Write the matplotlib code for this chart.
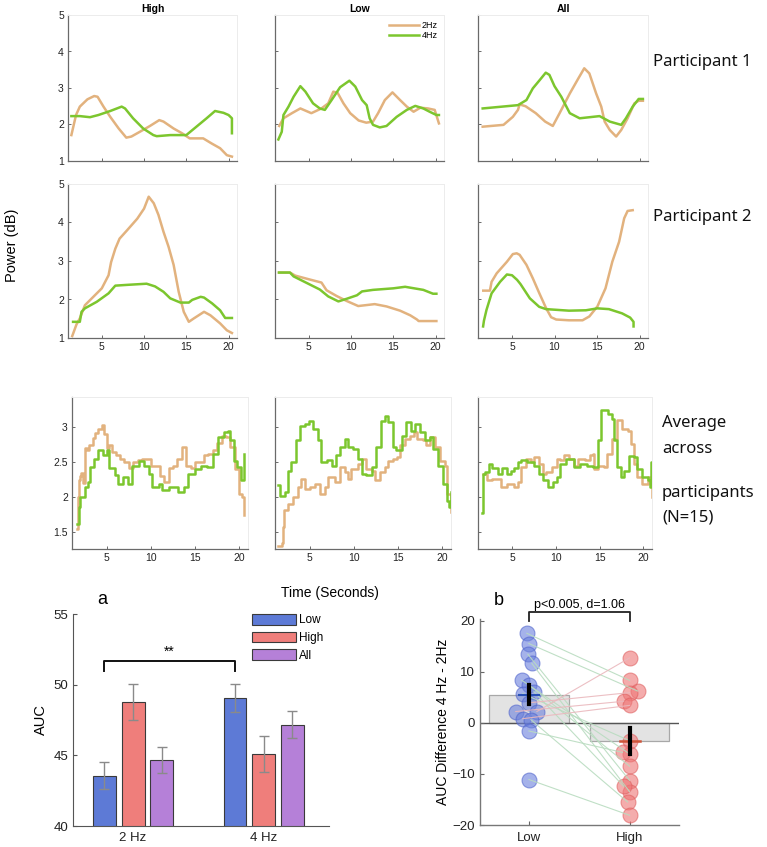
import numpy as np
import matplotlib
matplotlib.use("Agg")
import matplotlib.pyplot as plt

plt.rcParams['font.family'] = ['Liberation Sans', 'DejaVu Sans']

W, H = 767, 847
TAN = '#E2B27E'
GREEN = '#7CC62E'

# ---------------- datos ----------------
# Participante 1
p1_high_t2 = [1.4, 1.95, 2.4, 3.3, 4.1, 4.5, 5.2, 6.0, 7.0, 7.9, 8.5, 9.5, 10.7, 11.8, 12.3, 13.5, 14.5, 15.4, 17.0, 18.0, 19.0, 19.8, 20.4]
p1_high_v2 = [1.71, 2.26, 2.49, 2.69, 2.78, 2.76, 2.49, 2.21, 1.89, 1.64, 1.67, 1.80, 1.96, 2.12, 2.08, 1.89, 1.76, 1.62, 1.62, 1.48, 1.35, 1.16, 1.12]
p1_high_t4 = [1.4, 2.4, 3.6, 4.6, 6.0, 7.35, 7.75, 8.7, 9.9, 11.1, 11.5, 13.1, 15.0, 16.2, 17.4, 18.4, 19.4, 20.0, 20.4, 20.4]
p1_high_v4 = [2.23, 2.23, 2.20, 2.26, 2.37, 2.49, 2.44, 2.17, 1.89, 1.71, 1.68, 1.71, 1.71, 1.94, 2.17, 2.37, 2.32, 2.26, 2.17, 1.76]

p1_low_t2 = [1.5, 2.0, 3.0, 4.0, 5.3, 6.5, 7.3, 7.9, 8.4, 9.1, 9.9, 10.9, 11.8, 12.6, 13.2, 14.0, 14.9, 15.8, 16.6, 17.4, 18.2, 19.1, 19.9, 20.4]
p1_low_v2 = [1.96, 2.17, 2.31, 2.44, 2.31, 2.44, 2.58, 2.90, 2.87, 2.58, 2.31, 2.11, 2.05, 2.08, 2.31, 2.67, 2.88, 2.67, 2.49, 2.35, 2.46, 2.44, 2.40, 2.03]
p1_low_t4 = [1.4, 1.8, 2.0, 2.6, 3.2, 4.0, 4.6, 5.5, 6.3, 6.9, 7.7, 8.7, 9.8, 10.5, 11.3, 11.85, 12.2, 12.6, 13.4, 14.2, 15.4, 16.6, 17.6, 18.55, 19.3, 20.1, 20.4]
p1_low_v4 = [1.59, 1.80, 2.26, 2.49, 2.76, 3.05, 2.90, 2.58, 2.44, 2.40, 2.67, 3.02, 3.20, 3.04, 2.67, 2.53, 2.17, 1.99, 1.92, 1.96, 2.21, 2.40, 2.51, 2.44, 2.35, 2.26, 2.26]

p1_all_t2 = [1.55, 4.0, 5.1, 5.7, 5.9, 6.6, 7.8, 8.9, 9.8, 10.6, 11.8, 12.8, 13.5, 14.1, 14.9, 15.5, 15.9, 16.5, 17.25, 17.85, 18.6, 19.4, 19.9, 20.4]
p1_all_v2 = [1.94, 1.99, 2.21, 2.40, 2.55, 2.50, 2.31, 2.08, 1.96, 2.31, 2.85, 3.26, 3.54, 3.40, 2.85, 2.49, 2.08, 1.85, 1.67, 1.85, 2.17, 2.58, 2.65, 2.65]
p1_all_t4 = [1.55, 5.7, 6.7, 7.45, 8.27, 8.97, 9.4, 10.0, 10.8, 11.8, 12.96, 15.3, 16.5, 17.85, 18.4, 19.2, 19.9, 20.4]
p1_all_v4 = [2.44, 2.53, 2.67, 2.99, 3.22, 3.42, 3.36, 3.05, 2.76, 2.31, 2.17, 2.23, 2.08, 1.99, 2.17, 2.49, 2.70, 2.70]

# Participante 2
p2_high_t2 = [1.5, 2.0, 2.4, 3.0, 4.0, 5.0, 5.8, 6.1, 6.6, 7.1, 8.0, 9.2, 10.0, 10.55, 11.15, 11.7, 12.3, 12.9, 13.5, 14.1, 14.7, 15.3, 15.9, 17.1, 17.85, 19.0, 19.8, 20.4]
p2_high_v2 = [1.05, 1.35, 1.51, 1.85, 2.07, 2.29, 2.63, 2.97, 3.32, 3.58, 3.80, 4.10, 4.36, 4.67, 4.50, 4.20, 3.76, 3.37, 2.90, 2.20, 1.68, 1.42, 1.51, 1.68, 1.59, 1.38, 1.20, 1.13]
p2_high_t4 = [1.6, 2.4, 2.6, 3.0, 4.4, 5.8, 6.6, 8.0, 10.3, 11.3, 12.3, 13.1, 14.3, 15.3, 15.7, 16.7, 17.1, 18.05, 19.0, 19.6, 20.4]
p2_high_v4 = [1.42, 1.42, 1.68, 1.77, 1.94, 2.16, 2.36, 2.38, 2.41, 2.34, 2.20, 2.03, 1.92, 1.92, 1.99, 2.07, 2.05, 1.90, 1.72, 1.52, 1.52]

p2_low_t2 = [1.47, 2.77, 3.4, 5.1, 6.5, 7.1, 8.3, 9.5, 10.85, 12.8, 14.2, 15.8, 17.0, 17.8, 18.0, 20.1]
p2_low_v2 = [2.70, 2.70, 2.62, 2.52, 2.44, 2.24, 2.09, 1.96, 1.83, 1.88, 1.82, 1.71, 1.59, 1.48, 1.44, 1.44]
p2_low_t4 = [1.47, 2.77, 3.2, 4.75, 6.3, 7.3, 8.5, 9.5, 10.7, 11.3, 12.6, 15.0, 16.4, 18.55, 19.7, 20.1]
p2_low_v4 = [2.70, 2.70, 2.60, 2.43, 2.26, 2.08, 1.95, 2.02, 2.11, 2.21, 2.25, 2.29, 2.33, 2.25, 2.15, 2.15]

p2_all_t2 = [1.62, 2.4, 2.6, 3.2, 4.4, 5.1, 5.55, 5.9, 6.7, 7.45, 8.2, 9.0, 9.6, 10.2, 11.7, 13.3, 14.1, 15.05, 16.0, 16.8, 17.6, 18.2, 18.6, 19.2]
p2_all_v2 = [2.23, 2.23, 2.46, 2.68, 2.98, 3.18, 3.20, 3.16, 2.90, 2.55, 2.17, 1.78, 1.54, 1.48, 1.46, 1.46, 1.56, 1.82, 2.29, 2.98, 3.50, 4.11, 4.30, 4.32]
p2_all_t4 = [1.6, 1.7, 2.0, 2.6, 3.6, 4.4, 5.0, 5.6, 6.0, 7.1, 8.2, 9.0, 11.7, 13.7, 15.05, 16.4, 17.95, 18.9, 19.3, 19.3]
p2_all_v4 = [1.30, 1.45, 1.73, 2.16, 2.46, 2.65, 2.63, 2.51, 2.40, 2.03, 1.81, 1.75, 1.71, 1.72, 1.77, 1.75, 1.64, 1.53, 1.42, 1.30]

# Media de participantes (N=15)
avg_high_t2 = [1.6, 1.7, 1.8, 2.0, 2.1, 2.3, 2.5, 2.8, 3.0, 3.4, 3.7, 4.0, 4.4, 4.7, 5.0, 5.3, 5.6, 6.0, 6.5, 7.0, 7.5, 8.0, 8.5, 9.0, 9.5, 10.0, 10.5, 11.0, 11.5, 12.0, 12.5, 13.0, 13.5, 14.0, 14.5, 15.0, 15.5, 16.0, 16.5, 17.0, 17.5, 18.0, 18.5, 19.0, 19.5, 20.0, 20.3, 20.5]
avg_high_v2 = [1.55, 2.0, 2.25, 2.3, 2.35, 2.2, 2.7, 2.68, 2.75, 2.85, 2.92, 2.97, 3.03, 2.9, 2.7, 2.75, 2.65, 2.6, 2.55, 2.5, 2.42, 2.5, 2.53, 2.54, 2.54, 2.45, 2.45, 2.3, 2.22, 2.42, 2.45, 2.55, 2.72, 2.45, 2.42, 2.5, 2.5, 2.6, 2.62, 2.68, 2.78, 2.88, 2.86, 2.72, 2.4, 2.05, 2.0, 1.75]
avg_high_t4 = [1.6, 1.8, 2.0, 2.4, 2.55, 2.9, 3.1, 3.5, 4.0, 4.6, 5.0, 5.3, 5.9, 6.3, 6.8, 7.4, 7.8, 8.7, 9.2, 9.8, 10.1, 10.9, 11.3, 12.0, 12.6, 13.1, 13.7, 14.2, 15.0, 15.7, 16.4, 17.0, 17.6, 18.3, 18.7, 19.0, 19.4, 19.8, 20.2, 20.5]
avg_high_v4 = [1.62, 1.86, 2.0, 2.0, 2.14, 2.21, 2.43, 2.55, 2.67, 2.6, 2.67, 2.41, 2.31, 2.19, 2.29, 2.19, 2.45, 2.52, 2.45, 2.33, 2.14, 2.19, 2.1, 2.14, 2.14, 2.07, 2.14, 2.33, 2.40, 2.45, 2.43, 2.62, 2.86, 2.93, 2.95, 2.81, 2.52, 2.43, 2.24, 2.62]

avg_low_t2 = [1.41, 1.8, 2.0, 2.05, 2.5, 3.1, 3.7, 4.05, 4.4, 5.0, 5.6, 6.1, 6.7, 7.1, 7.8, 8.4, 9.0, 9.3, 9.7, 10.5, 10.9, 11.4, 12.0, 12.4, 12.9, 13.5, 13.9, 14.45, 14.9, 15.2, 15.8, 16.3, 16.8, 17.1, 17.85, 18.2, 18.6, 19.2, 19.7, 20.3, 20.5, 20.95]
avg_low_v2 = [1.30, 1.35, 1.57, 1.81, 1.90, 2.0, 2.14, 2.26, 2.12, 2.14, 2.19, 2.05, 2.14, 2.29, 2.22, 2.43, 2.36, 2.26, 2.40, 2.48, 2.55, 2.40, 2.38, 2.24, 2.36, 2.43, 2.52, 2.55, 2.57, 2.74, 2.83, 2.88, 2.93, 2.83, 2.81, 2.74, 2.86, 2.71, 2.52, 2.45, 2.05, 1.79]
avg_low_t4 = [1.41, 1.67, 2.2, 2.5, 2.9, 3.4, 3.87, 4.4, 4.9, 5.4, 5.9, 6.3, 6.9, 7.5, 8.0, 8.4, 9.0, 9.35, 9.9, 10.5, 10.9, 11.4, 12.0, 12.55, 13.1, 13.5, 13.9, 14.45, 14.8, 15.4, 15.95, 16.5, 16.9, 17.5, 18.0, 18.6, 19.0, 19.55, 20.1, 20.5, 20.8, 20.95]
avg_low_v4 = [2.17, 2.02, 2.07, 2.38, 2.50, 2.81, 3.02, 3.05, 3.09, 2.98, 2.81, 2.50, 2.53, 2.45, 2.60, 2.71, 2.83, 2.71, 2.69, 2.55, 2.33, 2.31, 2.43, 2.71, 3.09, 3.16, 3.07, 2.71, 2.67, 2.88, 3.07, 2.95, 3.05, 2.93, 2.81, 2.86, 2.69, 2.45, 2.19, 1.95, 1.86, 2.07]

avg_all_t2 = [1.6, 2.05, 2.7, 3.7, 4.4, 5.2, 5.6, 5.93, 6.5, 7.1, 7.5, 8.1, 8.5, 8.9, 9.5, 10.1, 10.5, 10.9, 11.5, 12.1, 12.5, 13.3, 13.9, 14.2, 14.4, 14.86, 15.45, 15.85, 16.4, 17.0, 17.6, 18.2, 18.6, 18.9, 19.3, 19.9, 20.5, 20.9, 21.0]
avg_all_v2 = [2.33, 2.24, 2.26, 2.14, 2.19, 2.14, 2.21, 2.43, 2.55, 2.50, 2.57, 2.48, 2.33, 2.36, 2.43, 2.55, 2.53, 2.60, 2.55, 2.45, 2.55, 2.53, 2.60, 2.62, 2.40, 2.45, 2.43, 2.62, 2.83, 3.10, 2.98, 2.95, 2.76, 2.48, 2.29, 2.19, 2.29, 2.26, 2.0]
avg_all_t4 = [1.48, 1.6, 1.85, 2.3, 2.7, 3.3, 3.85, 4.4, 4.8, 5.2, 5.6, 5.93, 6.7, 7.5, 8.1, 8.5, 9.1, 9.7, 10.1, 10.5, 11.1, 11.7, 12.1, 12.7, 13.5, 14.25, 14.65, 14.86, 15.1, 16.0, 16.4, 16.7, 17.0, 17.4, 17.8, 18.4, 18.9, 19.3, 19.9, 20.5, 20.8, 20.85, 20.95]
avg_all_v4 = [1.77, 2.33, 2.36, 2.48, 2.41, 2.33, 2.41, 2.33, 2.38, 2.41, 2.50, 2.53, 2.50, 2.45, 2.33, 2.24, 2.14, 2.21, 2.29, 2.48, 2.55, 2.55, 2.43, 2.48, 2.45, 2.43, 2.43, 2.81, 3.24, 3.19, 3.12, 2.81, 2.43, 2.29, 2.38, 2.59, 2.57, 2.40, 2.29, 2.24, 2.14, 2.50, 2.24]

# Panel a: AUC
freqs = ['2 Hz', '4 Hz']
grupos = ['Low', 'High', 'All']
auc_mean = {'Low': [43.55, 49.05], 'High': [48.78, 45.08], 'All': [44.68, 47.18]}
auc_err = {'Low': [0.95, 0.97], 'High': [1.25, 1.27], 'All': [0.93, 0.93]}
colores = {'Low': '#5D7AD6', 'High': '#EF7E7B', 'All': '#B580D8'}

# Panel b: diferencia AUC por participante (Low, High emparejados)
dif_low = [17.5, 15.5, 13.4, 11.6, 8.3, 7.4, 6.1, 5.7, 3.9, 2.2, 2.2, 0.8, 0.6, -1.6, -11.1]
dif_high = [8.3, 6.2, -11.3, -13.5, -6.1, -8.5, -12.4, -3.5, 5.9, 4.2, 12.7, 3.4, -15.5, -5.8, -18.1]
jit_low = [-0.02, 0.0, -0.01, 0.03, -0.07, 0.0, 0.05, -0.06, 0.0, -0.13, 0.08, -0.06, 0.02, 0.0, 0.0]
jit_high = [0.0, 0.08, 0.0, 0.0, 0.0, 0.0, -0.06, 0.0, 0.0, -0.06, 0.0, 0.0, -0.02, -0.07, 0.0]


def caja(l, t, r, b):
    # rectangulo en pixeles -> coordenadas de figura
    return [l / W, 1 - b / H, (r - l) / W, (b - t) / H]


def estilo(ax, ylabels=True, xlabels=True):
    for s in ['left', 'bottom']:
        ax.spines[s].set_color('#6a6a6a')
        ax.spines[s].set_linewidth(0.9)
    for s in ['top', 'right']:
        ax.spines[s].set_color('#ececec')
        ax.spines[s].set_linewidth(0.7)
    ax.tick_params(direction='in', length=2.5, width=0.7, color='#6a6a6a',
                   labelsize=7.5, labelcolor='#222222', pad=3)
    if not ylabels:
        ax.set_yticklabels([])
    if not xlabels:
        ax.set_xticklabels([])


fig = plt.figure(figsize=(W / 100, H / 100), dpi=100)

columnas = [(68, 237), (275, 444), (478, 648)]
col_bottom = [(72, 248), (275, 451), (478, 652)]

fila1 = [(p1_high_t2, p1_high_v2, p1_high_t4, p1_high_v4),
         (p1_low_t2, p1_low_v2, p1_low_t4, p1_low_v4),
         (p1_all_t2, p1_all_v2, p1_all_t4, p1_all_v4)]
fila2 = [(p2_high_t2, p2_high_v2, p2_high_t4, p2_high_v4),
         (p2_low_t2, p2_low_v2, p2_low_t4, p2_low_v4),
         (p2_all_t2, p2_all_v2, p2_all_t4, p2_all_v4)]
fila3 = [(avg_high_t2, avg_high_v2, avg_high_t4, avg_high_v4),
         (avg_low_t2, avg_low_v2, avg_low_t4, avg_low_v4),
         (avg_all_t2, avg_all_v2, avg_all_t4, avg_all_v4)]
titulos = ['High', 'Low', 'All']

# fila 1
for i, (l, r) in enumerate(columnas):
    ax = fig.add_axes(caja(l, 15, r, 161))
    t2, v2, t4, v4 = fila1[i]
    ax.plot(t2, v2, color=TAN, lw=1.8, label='2Hz')
    ax.plot(t4, v4, color=GREEN, lw=1.8, label='4Hz')
    ax.set_xlim(1, 21)
    ax.set_ylim(1, 5)
    ax.set_xticks([5, 10, 15, 20])
    ax.set_yticks([1, 2, 3, 4, 5])
    estilo(ax, ylabels=(i == 0), xlabels=False)
    ax.set_title(titulos[i], fontsize=7.5, fontweight='bold', pad=2)
    if i == 1:
        ax.legend(loc='upper right', frameon=False, fontsize=6.5, handlelength=3.3,
                  handletextpad=0.3, labelspacing=0.1, borderaxespad=0.3)

# fila 2
for i, (l, r) in enumerate(columnas):
    ax = fig.add_axes(caja(l, 184, r, 338))
    t2, v2, t4, v4 = fila2[i]
    ax.plot(t2, v2, color=TAN, lw=1.8)
    ax.plot(t4, v4, color=GREEN, lw=1.8)
    ax.set_xlim(1, 21)
    ax.set_ylim(1, 5)
    ax.set_xticks([5, 10, 15, 20])
    ax.set_yticks([1, 2, 3, 4, 5])
    estilo(ax, ylabels=(i == 0))

# fila 3
for i, (l, r) in enumerate(col_bottom):
    ax = fig.add_axes(caja(l, 397, r, 549))
    t2, v2, t4, v4 = fila3[i]
    ax.plot(t2, v2, color=TAN, lw=1.8, drawstyle='steps-post')
    ax.plot(t4, v4, color=GREEN, lw=1.8, drawstyle='steps-post')
    ax.set_xlim(1.05, 21.0)
    ax.set_ylim(1.26, 3.43)
    ax.set_xticks([5, 10, 15, 20])
    ax.set_yticks([1.5, 2, 2.5, 3])
    ax.set_yticklabels(['1.5', '2', '2.5', '3'])
    estilo(ax, ylabels=(i == 0))

fig.text(12 / W, 1 - 245 / H, 'Power (dB)', rotation=90, ha='center', va='center', fontsize=10.5)
fig.text(330 / W, 1 - 593 / H, 'Time (Seconds)', ha='center', va='center', fontsize=10)

lado = dict(fontsize=12, family=['Noto Sans', 'DejaVu Sans'], color='#111111', va='center', ha='left')
fig.text(653 / W, 1 - 62 / H, 'Participant 1', **lado)
fig.text(653 / W, 1 - 217 / H, 'Participant 2', **lado)
fig.text(662 / W, 1 - 423 / H, 'Average', **lado)
fig.text(662 / W, 1 - 449 / H, 'across', **lado)
fig.text(662 / W, 1 - 493 / H, 'participants', **lado)
fig.text(662 / W, 1 - 518 / H, '(N=15)', **lado)

# ---------------- panel a ----------------
axa = fig.add_axes(caja(73, 614, 329, 826))
xg = np.arange(1, len(freqs) + 1)
desp = {'Low': -0.22, 'High': 0.0, 'All': 0.22}
for g in grupos:
    axa.bar(xg + desp[g], auc_mean[g], width=0.175, bottom=0, color=colores[g],
            edgecolor='#3a3a3a', linewidth=0.8, label=g, zorder=2)
    axa.errorbar(xg + desp[g], auc_mean[g], yerr=auc_err[g], fmt='none',
                 ecolor='#8a8a8a', elinewidth=1, capsize=3.5, capthick=1, zorder=3)
axa.set_xlim(0.54, 2.5)
axa.set_ylim(40, 55)
axa.set_yticks([40, 45, 50, 55])
axa.set_xticks(xg)
axa.set_xticklabels(freqs)
axa.spines['top'].set_visible(False)
axa.spines['right'].set_visible(False)
for s in ['left', 'bottom']:
    axa.spines[s].set_color('#555555')
axa.tick_params(direction='in', length=3, labelsize=9.5, color='#555555', labelcolor='#222222')
axa.tick_params(axis='x', length=0, pad=4)
axa.set_ylabel('AUC', fontsize=10.5, labelpad=4)
axa.legend(loc='upper left', bbox_to_anchor=(0.70, 1.0), frameon=False, fontsize=8.5,
           handlelength=3.7, handleheight=1.0, handletextpad=0.3, labelspacing=0.45,
           borderaxespad=0, borderpad=0)
# corchete de significacion
xa1 = xg[0] + desp['Low']
xa2 = xg[1] + desp['Low']
axa.plot([xa1, xa1, xa2, xa2], [51.0, 51.7, 51.7, 51.0], color='#111111', lw=1.4)
axa.text((xa1 + xa2) / 2, 51.8, '**', ha='center', va='bottom', fontsize=10)
fig.text(102 / W, 1 - 599 / H, 'a', fontsize=13, ha='center', va='center')

# ---------------- panel b ----------------
axb = fig.add_axes(caja(480, 619, 679, 825))
n = len(dif_low)
xl = 1 + np.array(jit_low)
xh = 2 + np.array(jit_high)
m_low = np.mean(dif_low)
m_high = np.mean(dif_high)
se_low = np.std(dif_low, ddof=1) / np.sqrt(n)
se_high = np.std(dif_high, ddof=1) / np.sqrt(n)

axb.bar([1, 2], [m_low, m_high], width=0.79, color='#e3e3e3', edgecolor='#a8a8a8',
        linewidth=0.9, zorder=1)
axb.axhline(0, color='#555555', lw=1.0, zorder=1.5)
axb.scatter(xl, dif_low, s=115, color='#6a80dc', alpha=0.6, edgecolor='#4f63cc',
            linewidth=0.8, zorder=2)
axb.scatter(xh, dif_high, s=115, color='#ee7676', alpha=0.6, edgecolor='#de5f5f',
            linewidth=0.8, zorder=2)
for k in range(n):
    c = '#b9dcc0' if dif_high[k] < dif_low[k] else '#eab8bd'
    axb.plot([xl[k], xh[k]], [dif_low[k], dif_high[k]], color=c, lw=0.8, alpha=0.9, zorder=3)
axb.plot([0.9, 1.1], [m_low, m_low], color='#2a52b8', lw=1.5, zorder=4)
axb.plot([1.9, 2.1], [m_high, m_high], color='#d0553a', lw=1.8, zorder=4)
axb.plot([1, 1], [m_low - se_low, m_low + se_low], color='black', lw=3, zorder=5)
axb.plot([2, 2], [m_high - se_high, m_high + se_high], color='black', lw=3, zorder=5)

axb.set_xlim(0.515, 2.49)
axb.set_ylim(-20, 20.3)
axb.set_yticks([-20, -10, 0, 10, 20])
axb.set_xticks([1, 2])
axb.set_xticklabels(['Low', 'High'])
axb.spines['top'].set_visible(False)
axb.spines['right'].set_visible(False)
for s in ['left', 'bottom']:
    axb.spines[s].set_color('#777777')
    axb.spines[s].set_linewidth(1.0)
axb.tick_params(direction='in', length=3, labelsize=9.5, color='#666666', labelcolor='#222222')
axb.tick_params(axis='x', pad=5)
axb.set_ylabel('AUC Difference 4 Hz - 2Hz', fontsize=10, labelpad=2)
axb.plot([1, 1, 2, 2], [20.0, 21.6, 21.6, 20.0], color='#222222', lw=1.3, clip_on=False)
axb.text(1.5, 21.9, 'p<0.005, d=1.06', ha='center', va='bottom', fontsize=9)
fig.text(499 / W, 1 - 600 / H, 'b', fontsize=13, ha='center', va='center')

fig.savefig('out.png', dpi=100)
